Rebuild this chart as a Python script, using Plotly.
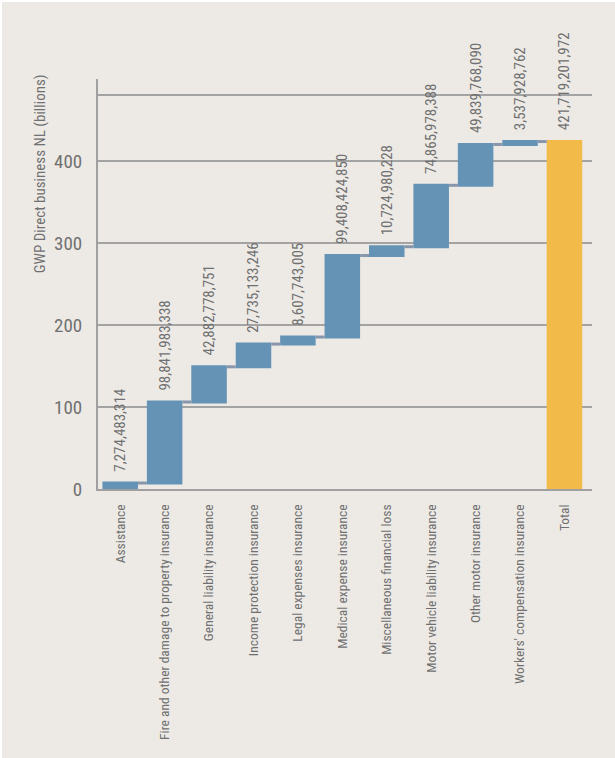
import plotly.graph_objects as go

categories = [
    "Assistance",
    "Fire and other damage to property insurance",
    "General liability insurance",
    "Income protection insurance",
    "Legal expenses insurance",
    "Medical expense insurance",
    "Miscellaneous financial loss",
    "Motor vehicle liability insurance",
    "Other motor insurance",
    "Workers' compensation insurance",
    "Total",
]
raw_values = [
    7274483314,
    98841983338,
    42882778751,
    27735133246,
    8607743005,
    99408424850,
    10724980228,
    74865978388,
    49839768090,
    3537928762,
    421719201972,
]
measures = ["relative"] * 10 + ["total"]
y_tickvals = [0, 100, 200, 300, 400, 480]
y_ticktext = ["0", "100", "200", "300", "400", ""]

FONT = "Noto Sans Condensed, Roboto Condensed, Liberation Sans Narrow, Roboto, sans-serif"
GREY = "#707070"

y_vals = [v / 1e9 for v in raw_values]
labels = ["\u00a0\u00a0" + f"{v:,}" for v in raw_values]

fig = go.Figure(go.Waterfall(
    x=categories,
    y=y_vals,
    measure=measures,
    text=labels,
    textposition="outside",
    textangle=-90,
    constraintext="none",
    textfont=dict(family=FONT, size=15, color=GREY),
    cliponaxis=False,
    increasing=dict(marker=dict(color="#6593B5")),
    decreasing=dict(marker=dict(color="#6593B5")),
    totals=dict(marker=dict(color="#F2BA48")),
    connector=dict(line=dict(color="#8896AC", width=3)),
    hoverinfo="skip",
))

fig.update_layout(
    width=615,
    height=758,
    paper_bgcolor="#EDEAE6",
    plot_bgcolor="#EDEAE6",
    margin=dict(l=96, r=25, t=77, b=271),
    showlegend=False,
    bargap=0.21,
    font=dict(family=FONT, color=GREY),
    annotations=[dict(
        text="GWP Direct business NL (billions)",
        xref="paper", yref="paper",
        x=-0.118, y=1.017,
        xanchor="center", yanchor="top",
        textangle=-90,
        showarrow=False,
        font=dict(family=FONT, size=15, color=GREY),
    )],
)

fig.update_xaxes(
    range=[-0.5, 10.62],
    automargin=False,
    showline=True, linecolor="#A0A0A0", linewidth=2,
    showgrid=False,
    tickangle=-90,
    ticks="",
    ticklabelstandoff=8,
    tickfont=dict(family=FONT, size=13.5, color=GREY),
)
fig.update_yaxes(
    range=[0, 500],
    automargin=False,
    tickvals=y_tickvals,
    ticktext=y_ticktext,
    showline=True, linecolor="#A0A0A0", linewidth=2,
    showgrid=True, gridcolor="#A3A3A3", gridwidth=1.5,
    zeroline=False,
    ticks="",
    ticklabelstandoff=10,
    tickfont=dict(family=FONT, size=19, color=GREY),
)

fig.write_html(
    "out.html",
    post_script="document.body.style.margin='2px 0 0 2px';document.body.style.overflow='hidden';",
)
